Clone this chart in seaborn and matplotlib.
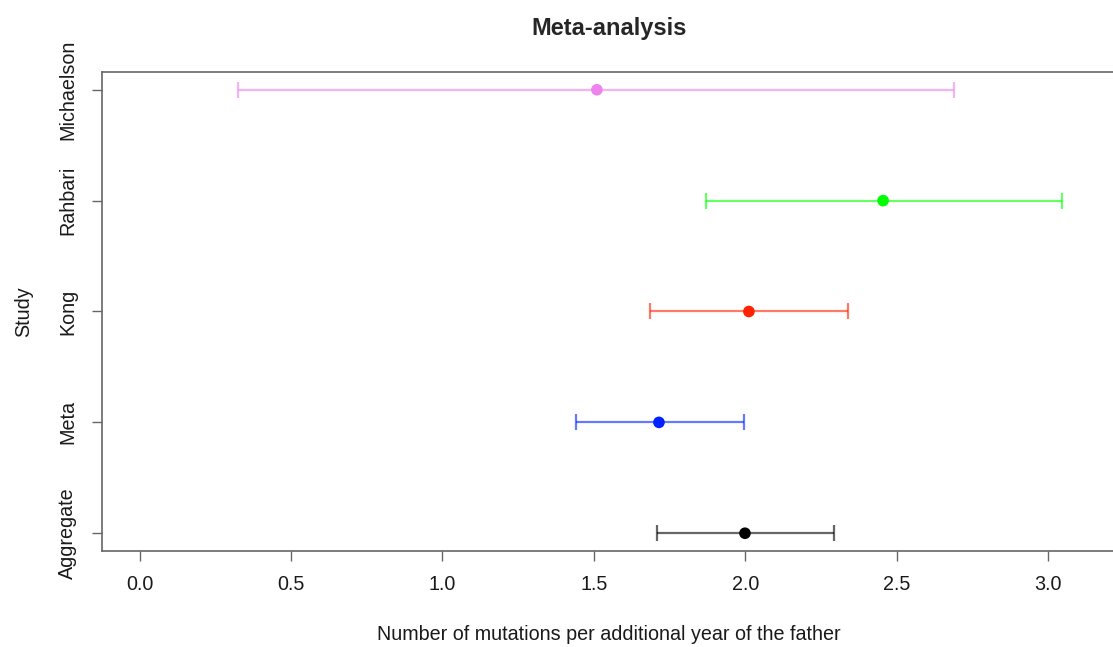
import matplotlib
matplotlib.use("Agg")
import matplotlib.pyplot as plt
import seaborn as sns
import pandas as pd

# study estimates (mutations per year of father's age)
studies = ["Aggregate", "Meta", "Kong", "Rahbari", "Michaelson"]
estimate = [1.999, 1.715, 2.012, 2.455, 1.510]
lower = [1.708, 1.440, 1.685, 1.870, 0.324]
upper = [2.293, 1.995, 2.339, 3.046, 2.690]
colours = ["black", "#0022ff", "#ff2200", "#00ff00", "#ee82ee"]
x_ticks = [0.0, 0.5, 1.0, 1.5, 2.0, 2.5, 3.0]

df = pd.DataFrame({"study": studies, "est": estimate, "lo": lower, "hi": upper})
df["pos"] = range(1, len(studies) + 1)

sns.set_style("white")
plt.rcParams["font.family"] = ["Liberation Sans", "DejaVu Sans"]

fig = plt.figure(figsize=(11.13, 6.47), dpi=100)
ax = fig.add_axes([0.0916, 0.1484, 0.9111, 0.7403])

# confidence intervals
for i, row in df.iterrows():
    ax.errorbar(row["est"], row["pos"],
                xerr=[[row["est"] - row["lo"]], [row["hi"] - row["est"]]],
                fmt="none", ecolor=colours[i], alpha=0.6, elinewidth=1.6,
                capsize=6, capthick=1.6)

# point estimates
sns.scatterplot(data=df, x="est", y="pos", hue="study", palette=colours,
                s=70, edgecolor="none", legend=False, ax=ax, zorder=3)

ax.set_xlim(-0.124, 3.224)
ax.set_ylim(0.84, 5.16)
ax.set_xticks(x_ticks)
ax.set_xticklabels([f"{t:.1f}" for t in x_ticks])
ax.set_yticks(df["pos"])
ax.set_yticklabels(studies, rotation=90, va="center")

for side in ["left", "bottom", "top", "right"]:
    ax.spines[side].set_color("#666666")
    ax.spines[side].set_linewidth(1.2)
ax.tick_params(axis="both", direction="out", length=7, width=1, color="#666666",
               labelsize=14.2, labelcolor="#1a1a1a", bottom=True, left=True)
ax.tick_params(axis="x", pad=10)
ax.tick_params(axis="y", pad=11)

ax.set_xlabel("Number of mutations per additional year of the father",
              fontsize=14.2, labelpad=22.5, color="#1a1a1a")
ax.set_ylabel("Study", fontsize=14.2, labelpad=18, color="#1a1a1a")
ax.set_title("Meta-analysis", fontsize=17, fontweight="bold", pad=27)

fig.savefig("out.png", dpi=100)
